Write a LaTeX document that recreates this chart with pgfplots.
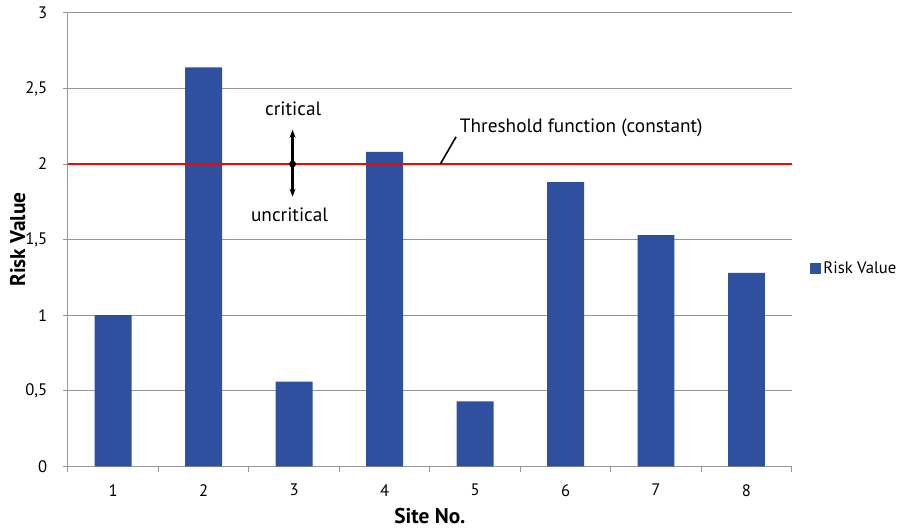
\documentclass[border=0pt]{standalone}
\usepackage{pgfplots}
\pgfplotsset{compat=1.18}
\usepackage{fontspec}
\setmainfont{PT Sans}
\usetikzlibrary{arrows.meta}

\definecolor{barblue}{RGB}{46,80,158}
\definecolor{gridgray}{RGB}{150,150,150}

\pgfplotstableread{
site risk
1 1.00
2 2.64
3 0.56
4 2.08
5 0.43
6 1.88
7 1.53
8 1.28
}\risktable

\begin{document}
\begin{tikzpicture}
\begin{axis}[
  scale only axis,
  width=543.75pt, height=340.5pt,
  xmin=0.5, xmax=8.5,
  ymin=0, ymax=3,
  axis x line=bottom, axis y line=left,
  axis line style={-, gridgray, line width=0.75pt},
  xtick={1,...,8},
  major x tick style={draw=none},
  minor xtick={0.5,1.5,...,8.5},
  minor x tick style={gridgray, line width=0.75pt},
  minor tick length=4pt,
  ytick={0,0.5,...,3},
  major y tick style={gridgray, line width=0.75pt},
  major tick length=4pt,
  tick align=outside,
  ymajorgrids,
  grid style={gridgray, line width=0.75pt},
  /pgf/number format/use comma,
  /pgf/number format/assume math mode=true,
  tick label style={font=\fontsize{12.5}{14}\selectfont, black},
  yticklabel style={xshift=-8pt},
  xticklabel style={yshift=-6pt},
  xlabel={\textbf{Site No.}},
  ylabel={\textbf{Risk Value}},
  label style={font=\fontsize{16}{18}\selectfont},
  xlabel style={yshift=-2pt},
  ylabel style={yshift=-7pt},
  legend style={draw=none, at={(1.025,0.436)}, anchor=west,
    font=\fontsize{12.5}{14}\selectfont, inner sep=0pt},
  legend image code/.code={\fill[barblue] (0pt,-4pt) rectangle (8pt,4pt);},
  clip=false,
]
\addplot[ybar, bar width=27.75pt, fill=barblue, draw=none] table[x=site, y=risk] {\risktable};
\addlegendentry{Risk Value}
% constant threshold
\addplot[red, line width=1.5pt, forget plot] coordinates {(0.5,2) (8.5,2)};
% critical / uncritical marker
\draw[-{Stealth[length=6pt,width=4.5pt]}, line width=1.6pt] (axis cs:2.983,2) -- (axis cs:2.983,2.227);
\draw[-{Stealth[length=6pt,width=4.5pt]}, line width=1.6pt] (axis cs:2.983,2) -- (axis cs:2.983,1.784);
\fill (axis cs:2.983,2) circle (2.6pt);
\node[font=\fontsize{14.5}{16}\selectfont] at (axis cs:2.99,2.366) {critical};
\node[font=\fontsize{14.5}{16}\selectfont] at (axis cs:2.95,1.665) {uncritical};
% threshold label
\draw[line width=1.2pt] (axis cs:4.616,2) -- (axis cs:4.79,2.18);
\node[anchor=west, inner sep=0pt, font=\fontsize{14.5}{16}\selectfont] at (axis cs:4.83,2.24) {Threshold function (constant)};
\end{axis}
\path (-51pt,-46.5pt) rectangle (623.25pt,350.25pt);
\end{tikzpicture}
\end{document}
